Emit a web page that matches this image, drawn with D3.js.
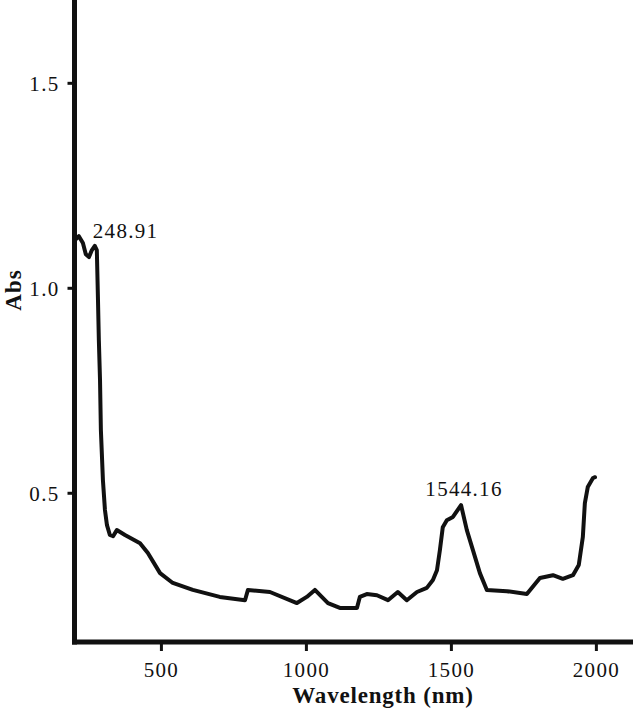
<!DOCTYPE html>
<html>
<head>
<meta charset="utf-8">
<script src="https://cdn.jsdelivr.net/npm/d3@7"></script>
<style>
  html, body { margin: 0; padding: 0; background: #fff; }
  svg { display: block; }
  text { font-family: "Liberation Serif", "Times New Roman", serif; fill: #111; }
</style>
</head>
<body>
<svg id="chart" width="640" height="709"></svg>
<script>
// Wavelength (nm) and absorbance
const wavelength = [203,217,231,241,252,262,272,279,283,286,290,293,300,307,314,324,335,348,376,428,455,497,541,610,703,790,800,876,969,1003,1031,1076,1117,1176,1186,1210,1245,1283,1317,1348,1383,1417,1438,1452,1462,1472,1486,1507,1535,1555,1576,1600,1624,1693,1762,1807,1852,1886,1921,1941,1955,1962,1972,1990,1997];
const absorbance = [1.116,1.126,1.109,1.082,1.075,1.092,1.102,1.092,0.970,0.872,0.775,0.653,0.531,0.458,0.421,0.397,0.394,0.409,0.397,0.377,0.353,0.304,0.280,0.263,0.246,0.238,0.263,0.258,0.231,0.246,0.263,0.231,0.219,0.219,0.246,0.253,0.250,0.238,0.258,0.238,0.258,0.268,0.287,0.311,0.360,0.416,0.433,0.441,0.470,0.409,0.360,0.304,0.263,0.260,0.253,0.292,0.299,0.290,0.299,0.324,0.392,0.475,0.514,0.536,0.538];
const xTicks = [500, 1000, 1500, 2000];
const yTicks = [0.5, 1.0, 1.5];
const peakLabels = ["248.91", "1544.16"];
const peakWl = [272, 1535];
const xTitle = "Wavelength (nm)";
const yTitle = "Abs";

(function () {
const svg = d3.select("#chart");
const mLeft = 74.5, mRight = 633, mTop = 0, mBottom = 642;

const x = d3.scaleLinear().domain([202, 2128]).range([mLeft, mRight]);
const y = d3.scaleLinear().domain([0.136, 1.702]).range([mBottom, mTop]);

// Curve
const pts = wavelength.map((w, i) => [w, absorbance[i]]);
const line = d3.line().x(d => x(d[0])).y(d => y(d[1])).curve(d3.curveLinear);
svg.append("path").datum(pts)
  .attr("d", line)
  .attr("fill", "none")
  .attr("stroke", "#111")
  .attr("stroke-width", 4)
  .attr("stroke-linejoin", "round")
  .attr("stroke-linecap", "round");

// Y axis
const yAxis = svg.append("g").attr("transform", `translate(${mLeft},0)`)
  .call(d3.axisLeft(y).tickValues(yTicks).tickFormat(d3.format(".1f")).tickSize(7).tickSizeOuter(0).tickPadding(8));
yAxis.select(".domain").attr("stroke", "#111").attr("stroke-width", 5)
  .attr("d", `M0,${mTop}V${mBottom + 2.5}`);
yAxis.selectAll(".tick line").attr("stroke", "#111").attr("stroke-width", 3);
yAxis.selectAll(".tick text").attr("font-size", 21).attr("letter-spacing", "1.3px")
  .attr("font-family", "Liberation Serif, serif").attr("fill", "#111").attr("dy", "0.36em");

// X axis
const xAxis = svg.append("g").attr("transform", `translate(0,${mBottom})`)
  .call(d3.axisBottom(x).tickValues(xTicks).tickFormat(d3.format("d")).tickSize(9).tickSizeOuter(0).tickPadding(11));
xAxis.select(".domain").attr("stroke", "#111").attr("stroke-width", 5)
  .attr("d", `M${mLeft - 2.5},0H${mRight}`);
xAxis.selectAll(".tick line").attr("stroke", "#111").attr("stroke-width", 3);
xAxis.selectAll(".tick text").attr("font-size", 21).attr("letter-spacing", "1.3px")
  .attr("font-family", "Liberation Serif, serif").attr("fill", "#111");

// Axis titles
svg.append("text")
  .attr("x", 383).attr("y", 703)
  .attr("text-anchor", "middle")
  .attr("font-size", 23).attr("font-weight", "bold").attr("letter-spacing", "0.8px")
  .text(xTitle);
svg.append("text")
  .attr("transform", "translate(21,290) rotate(-90)")
  .attr("text-anchor", "middle")
  .attr("font-size", 23).attr("font-weight", "bold").attr("letter-spacing", "1px")
  .text(yTitle);

// Peak labels
const nearest = w => pts.reduce((a, b) => Math.abs(b[0] - w) < Math.abs(a[0] - w) ? b : a);
const p1 = nearest(peakWl[0]);
svg.append("text")
  .attr("x", x(p1[0]) - 2).attr("y", y(p1[1]) - 8)
  .attr("font-size", 21).attr("letter-spacing", "1.3px")
  .text(peakLabels[0]);
const p2 = nearest(peakWl[1]);
svg.append("text")
  .attr("x", x(p2[0]) + 3).attr("y", y(p2[1]) - 9)
  .attr("text-anchor", "middle")
  .attr("font-size", 21).attr("letter-spacing", "1.3px")
  .text(peakLabels[1]);
})();
</script>
</body>
</html>
